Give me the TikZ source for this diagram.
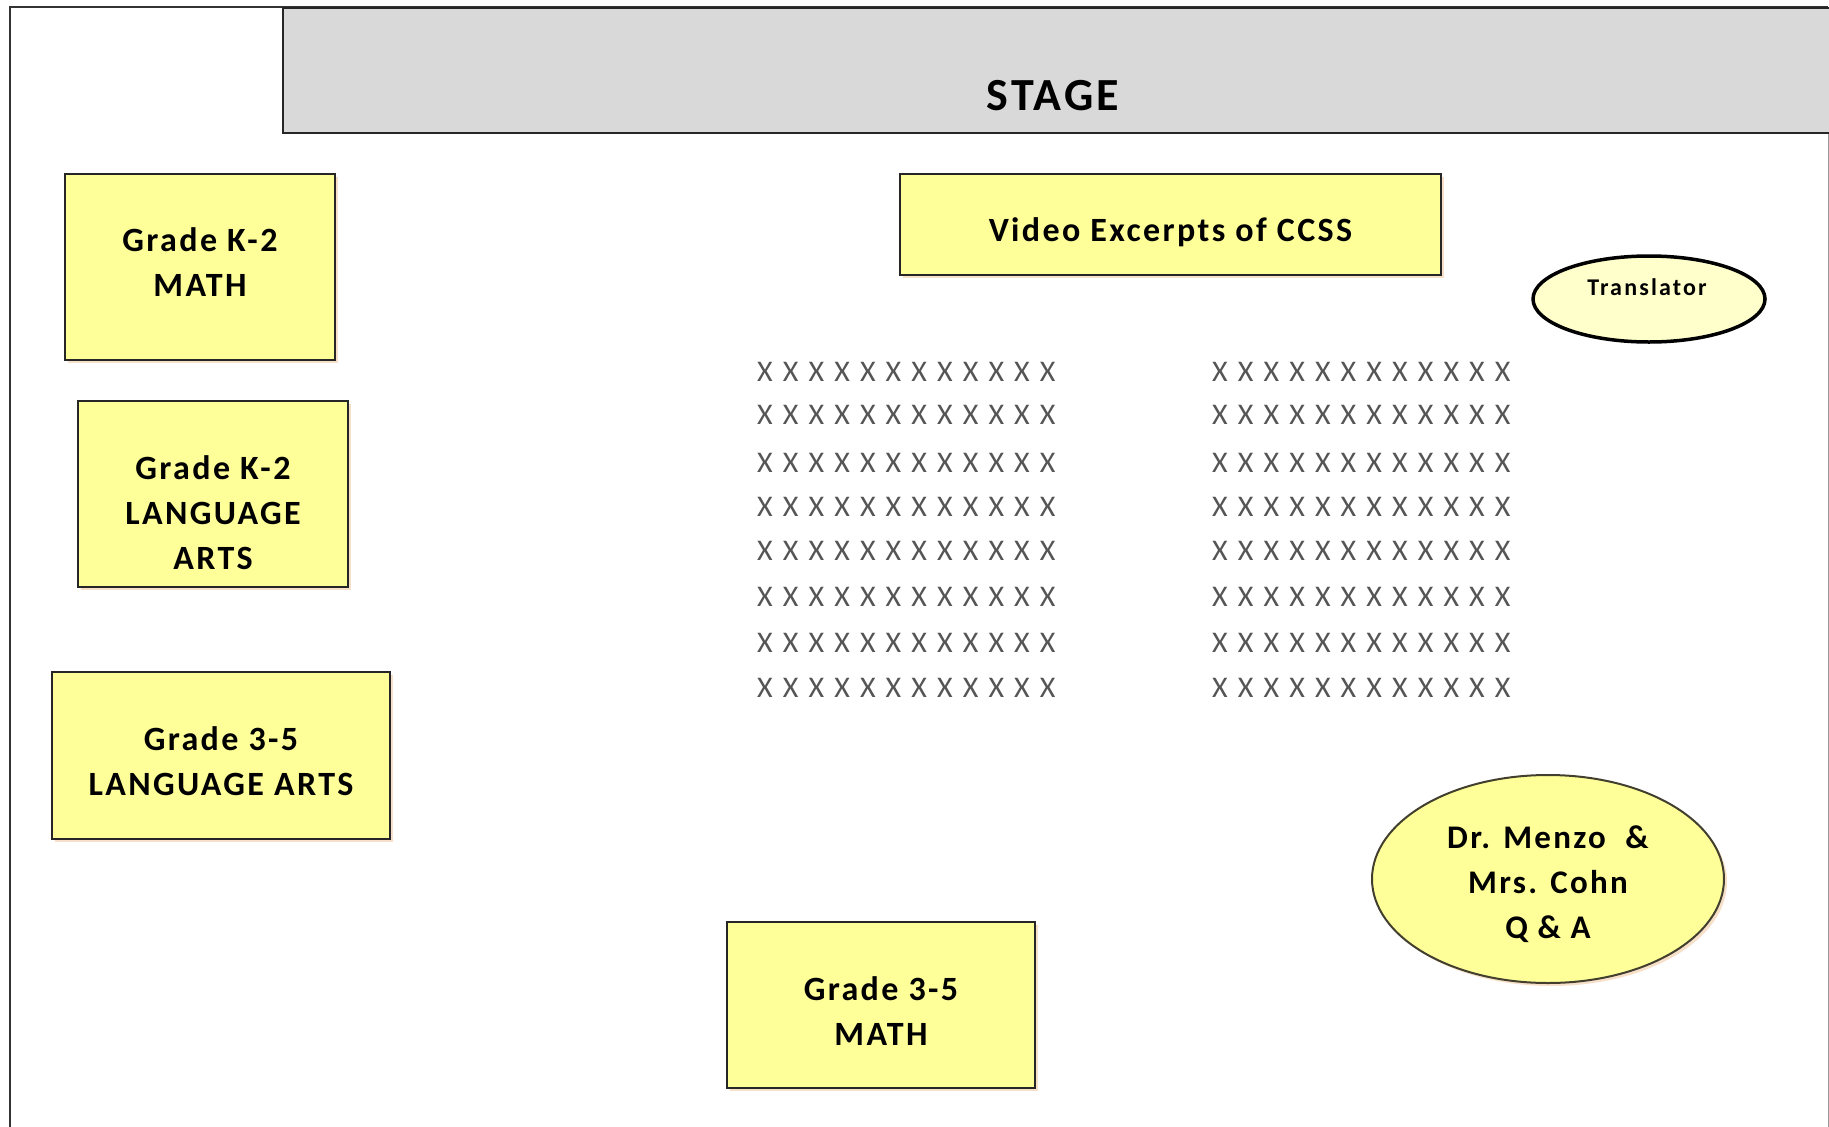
\documentclass[tikz,border=0pt]{standalone}
\usepackage{fontspec}
\setmainfont{Carlito}[LetterSpace=7]
\newfontfamily\seatfont{Carlito}
\newfontfamily\transfont{Carlito}[LetterSpace=9]
\usetikzlibrary{shapes.geometric,shadows}
\definecolor{boxyellow}{HTML}{FFFF99}
\definecolor{palyellow}{HTML}{FFFFCC}
\definecolor{stagegray}{HTML}{D9D9D9}
\definecolor{seatgray}{HTML}{555555}
\begin{document}
\begin{tikzpicture}[x=1pt,y=-1pt,
  boxshadow/.style={drop shadow={shadow xshift=3pt,shadow yshift=-3pt,fill=brown!50!orange!40,opacity=0.6}},
  roombox/.style={draw=black!85,line width=2pt,fill=boxyellow,inner sep=0pt,boxshadow},
  boxtext/.style={align=center,inner sep=0pt,font=\fontsize{34}{45}\selectfont\bfseries},
  seat/.style={text=seatgray,inner sep=0pt,font=\seatfont\fontsize{30}{30}\selectfont},
  oval/.style={ellipse,inner sep=0pt,align=center}]
\useasboundingbox (0,0) rectangle (1829,1127);
% room frame
\coordinate (fbl) at (10,1127);
\coordinate (ftl) at (10,7);
\coordinate (ftr) at (1828,7);
\coordinate (fbr) at (1828,1127);
\draw[line width=2pt,black!80] (fbl) -- (ftl) -- (ftr);
\draw[line width=1pt,black!40] (ftr) -- (fbr);
% stage
\node[draw=black!85,line width=2pt,fill=stagegray,minimum width=1547pt,minimum height=125pt,inner sep=0pt,anchor=north west] (stage) at (282,7) {};
\node[font=\fontsize{46}{46}\selectfont\bfseries] (stagelabel) at (1053,96) {STAGE};
% stations
\node[roombox,minimum width=270pt,minimum height=186pt] (k2math) at (200,267) {};
\node[boxtext] (k2mathtext) at (200,262) {Grade K-2\\MATH};
\node[roombox,minimum width=270pt,minimum height=186pt] (k2la) at (213,494) {};
\node[boxtext] (k2latext) at (213,513) {Grade K-2\\LANGUAGE\\ARTS};
\node[roombox,minimum width=338pt,minimum height=167pt] (g35la) at (221,755.5) {};
\node[boxtext] (g35latext) at (221,761.5) {Grade 3-5\\LANGUAGE ARTS};
\node[roombox,minimum width=308pt,minimum height=166pt] (g35math) at (881,1005) {};
\node[boxtext] (g35mathtext) at (881,1011) {Grade 3-5\\MATH};
\node[roombox,minimum width=541pt,minimum height=101pt] (video) at (1170.5,224.5) {};
\node[boxtext] (videotext) at (1170.5,232.5) {Video Excerpts of CCSS};
\node[oval,draw=black,line width=3.5pt,fill=palyellow,minimum width=232pt,minimum height=86pt] (translator) at (1649,299) {};
\node[inner sep=0pt,font=\transfont\fontsize{24}{24}\selectfont\bfseries] (translatortext) at (1647,287) {Translator};
\node[oval,draw=black!70!olive,line width=2pt,fill=boxyellow,minimum width=352pt,minimum height=208pt,boxshadow] (qa) at (1548,879) {};
\node[boxtext,font=\fontsize{33}{45}\selectfont\bfseries] (qatext) at (1548,884) {Dr. Menzo\ \ \&\\Mrs. Cohn\\Q \& A};
% seats
\foreach \r [count=\i] in {372,415,463,507,551,597,643,688} {
  \foreach \c in {0,...,11} {
    \node[seat] (L-\i-\c) at ({765+\c*25.7},\r) {X};
    \node[seat] (R-\i-\c) at ({1220+\c*25.7},\r) {X};
  }
}
\end{tikzpicture}
\end{document}
